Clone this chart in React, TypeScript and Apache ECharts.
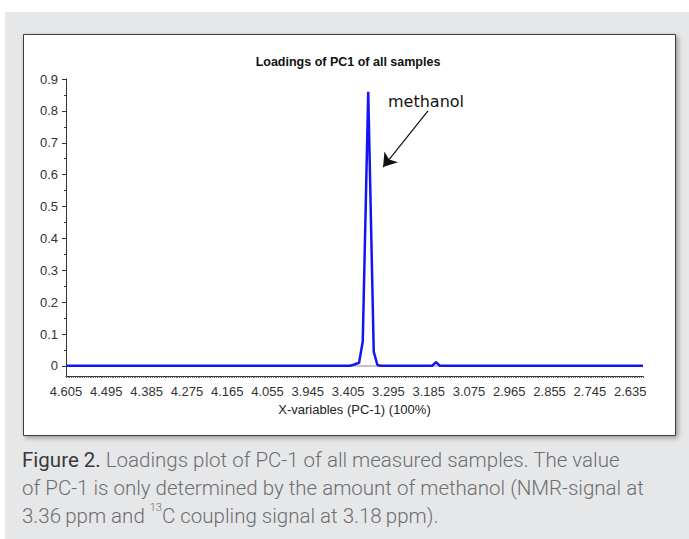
import React, { useEffect, useRef } from "react";
import * as echarts from "echarts";

// x-variable index (spectral bins, 0.005 ppm each; 0 = 4.605 ppm) and loading values
const varIndex = [0, 155, 157, 160, 162, 165, 168, 170, 172, 200, 202, 204, 315];
const loadings = [0.001, 0.001, 0.004, 0.01, 0.077, 0.86, 0.045, 0.003, 0.001, 0.001, 0.012, 0.001, 0.001];

// tick labels of the x-axis (ppm), one every 22 variables
const ppmLabels = ["4.605", "4.495", "4.385", "4.275", "4.165", "4.055", "3.945", "3.405", "3.295", "3.185", "3.075", "2.965", "2.855", "2.745", "2.635"];
const labelStep = 22;
const varCount = 315;

const yLabelValues = [0, 0.1, 0.2, 0.3, 0.4, 0.5, 0.6, 0.7, 0.8, 0.9];
const yLabels = ["0", "0.1", "0.2", "0.3", "0.4", "0.5", "0.6", "0.7", "0.8", "0.9"];
const yMinorValues = [0.05, 0.15, 0.25, 0.35, 0.45, 0.55, 0.65, 0.75, 0.85];

// annotation: arrow from text towards the peak
const arrowFrom = [197.6, 0.8];
const arrowTo = [173.1, 0.624];
const annotationAt = [175.8, 0.831];

export default function App() {
  const ref = useRef<HTMLDivElement>(null);
  useEffect(() => {
    if (!ref.current) return;
    const chart = echarts.init(ref.current, null, { renderer: "svg" });
    const xLabelValues = ppmLabels.map((_, i) => i * labelStep);
    const xTickValues: number[] = [];
    for (let i = 0; i <= varCount; i++) xTickValues.push(i);
    const font = "'Liberation Sans', Arial, sans-serif";
    const capFont = "Roboto, 'Liberation Sans', sans-serif";
    chart.setOption({
      animation: false,
      backgroundColor: "#ffffff",
      title: {
        text: "Loadings of PC1 of all samples",
        left: 343,
        textAlign: "center",
        top: 50,
        textStyle: { fontSize: 12.5, fontWeight: "bold", color: "#111", fontFamily: font },
      },
      grid: { left: 66, right: 46, top: 79, bottom: 163, containLabel: false },
      xAxis: {
        type: "value",
        min: 0,
        max: varCount,
        axisLine: { show: true, onZero: false, lineStyle: { color: "#333", width: 1 } },
        axisTick: { show: true, customValues: xTickValues, length: 2, lineStyle: { color: "#444", width: 0.8 } },
        axisLabel: {
          customValues: xLabelValues,
          formatter: (v: number) => ppmLabels[Math.round(v / labelStep)] ?? "",
          fontSize: 13,
          color: "#333",
          margin: 9,
          fontFamily: font,
        },
        splitLine: { show: false },
        name: "X-variables (PC-1) (100%)",
        nameLocation: "middle",
        nameGap: 26,
        nameTextStyle: { fontSize: 13, color: "#222", fontFamily: font },
      },
      yAxis: [
        {
          type: "value",
          min: -0.0314,
          max: 0.9,
          axisLine: { show: true, onZero: false, lineStyle: { color: "#333", width: 1 } },
          axisTick: { show: true, customValues: yLabelValues, length: 4, lineStyle: { color: "#333" } },
          axisLabel: {
            customValues: yLabelValues,
            formatter: (v: number) => yLabels[Math.round(v * 10)] ?? "",
            fontSize: 13,
            color: "#333",
            margin: 8,
            fontFamily: font,
          },
          splitLine: { show: false },
        },
        {
          type: "value",
          position: "left",
          min: -0.0314,
          max: 0.9,
          axisLine: { show: false },
          axisTick: { show: true, customValues: yMinorValues, length: 2, lineStyle: { color: "#333" } },
          axisLabel: { show: false },
          splitLine: { show: false },
        },
      ],
      graphic: [
        { type: "rect", z: -20, silent: true, shape: { x: 5, y: 12, width: 684, height: 527 }, style: { fill: "#e6e7e8" } },
        {
          type: "rect",
          z: -10,
          silent: true,
          shape: { x: 23.5, y: 34.5, width: 652, height: 401 },
          style: {
            fill: "#ffffff",
            stroke: "#3c3c3c",
            lineWidth: 1,
            shadowBlur: 5,
            shadowOffsetX: 2,
            shadowOffsetY: 2,
            shadowColor: "rgba(0,0,0,0.35)",
          },
        },
        {
          type: "text",
          z: 10,
          silent: true,
          x: 22,
          y: 446,
          style: {
            text:
              "{b|Figure 2.} Loadings plot of PC-1 of all measured samples. The value\n" +
              "of PC-1 is only determined by the amount of methanol (NMR-signal at\n" +
              "3.36\u2009ppm and {sup|13}C coupling signal at 3.18\u2009ppm).",
            fontFamily: capFont,
            fontWeight: 300,
            fontSize: 20.5,
            lineHeight: 28,
            fill: "#6d6e71",
            rich: {
              b: { fontFamily: capFont, fontWeight: 400, fontSize: 20.5, lineHeight: 28, fill: "#3a3a3c", color: "#3a3a3c" },
              sup: { fontFamily: capFont, fontWeight: 300, fontSize: 11, lineHeight: 11, verticalAlign: "top", fill: "#6d6e71", color: "#6d6e71" },
            },
          },
        },
      ],
      series: [
        {
          type: "line",
          silent: true,
          z: 1,
          symbol: "none",
          data: [[0, 0], [varCount, 0]],
          lineStyle: { color: "#8a8a8a", width: 1 },
        },
        {
          type: "line",
          silent: true,
          z: 3,
          symbol: "none",
          data: varIndex.map((x, i) => [x, loadings[i]]),
          lineStyle: { color: "#1414f5", width: 2.5 },
          markLine: {
            silent: true,
            symbol: ["none", "arrow"],
            symbolSize: 13,
            label: { show: false },
            lineStyle: { color: "#111", width: 1.2, type: "solid" },
            data: [[{ coord: arrowFrom }, { coord: arrowTo }]],
          },
          markPoint: {
            silent: true,
            symbol: "circle",
            symbolSize: 0,
            data: [
              {
                coord: annotationAt,
                label: {
                  show: true,
                  formatter: "methanol",
                  position: "right",
                  distance: 0,
                  fontSize: 16,
                  color: "#111",
                  fontFamily: "'DejaVu Sans', sans-serif",
                },
              },
            ],
          },
        },
      ],
    });
    return () => chart.dispose();
  }, []);
  return <div ref={ref} style={{ position: "absolute", left: 0, top: 0, width: 689, height: 539 }} />;
}
